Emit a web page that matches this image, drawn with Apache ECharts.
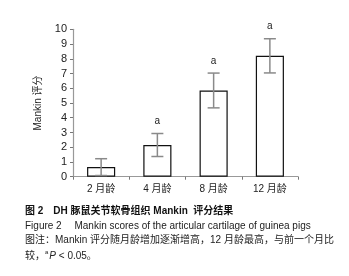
<!DOCTYPE html>
<html><head><meta charset="utf-8">
<script src="https://cdn.jsdelivr.net/npm/echarts@6/dist/echarts.min.js"></script>
<style>html,body{margin:0;padding:0;background:#fff}#c{width:349px;height:276px}</style>
</head><body><div id="c"></div>
<script>
var categories = ['2 月龄', '4 月龄', '8 月龄', '12 月龄'];
var means = [0.65, 2.15, 5.85, 8.2];
var errors = [0.57, 0.78, 1.18, 1.16];
var sigMarks = ['', 'a', 'a', 'a'];
var yTicks = [0, 1, 2, 3, 4, 5, 6, 7, 8, 9, 10];

var errData = means.map(function (m, i) { return [i, m - errors[i], m + errors[i], sigMarks[i]]; });
var font = '"Liberation Sans", Arial, "Noto Sans CJK SC", sans-serif';
var cjk = '"Liberation Sans", "Noto Sans CJK SC", sans-serif';

var chart = echarts.init(document.getElementById('c'), null, { renderer: 'canvas' });
chart.setOption({
  animation: false,
  backgroundColor: '#fff',
  grid: { left: 73, right: 51, top: 29.3, bottom: 99.3 },
  xAxis: {
    type: 'category', data: categories,
    axisLine: { lineStyle: { color: '#999', width: 1.2 } },
    axisTick: { show: true, length: 3, lineStyle: { color: '#777' } },
    axisLabel: { color: '#222', fontSize: 10, fontFamily: cjk, margin: 8 }
  },
  yAxis: {
    type: 'value', min: 0, max: 10, interval: 1,
    name: 'Mankin 评分', nameLocation: 'middle', nameGap: 30, nameRotate: 90,
    nameTextStyle: { color: '#222', fontSize: 10, fontFamily: cjk },
    axisLine: { show: true, lineStyle: { color: '#999', width: 1.2 } },
    axisTick: { show: true, length: 3, lineStyle: { color: '#777' } },
    axisLabel: { color: '#222', fontSize: 11, fontFamily: font, margin: 6,
      formatter: function (v) { return yTicks.indexOf(v) >= 0 ? String(v) : ''; } },
    splitLine: { show: false }
  },
  series: [{
    type: 'bar', data: means, barWidth: '50%',
    itemStyle: { color: '#fff', borderColor: '#111', borderWidth: 1.2 },
    z: 2
  }, {
    type: 'custom', data: errData, z: 3,
    encode: { x: 0, y: [1, 2] },
    renderItem: function (params, api) {
      var x = api.coord([api.value(0), 0])[0];
      var lo = api.coord([api.value(0), api.value(1)])[1];
      var hi = api.coord([api.value(0), api.value(2)])[1];
      var mark = sigMarks[params.dataIndex];
      var w = 6;
      var st = { stroke: '#8a8a8a', lineWidth: 1.5 };
      var children = [
        { type: 'line', shape: { x1: x, y1: lo, x2: x, y2: hi }, style: st },
        { type: 'line', shape: { x1: x - w, y1: lo, x2: x + w, y2: lo }, style: st },
        { type: 'line', shape: { x1: x - w, y1: hi, x2: x + w, y2: hi }, style: st }
      ];
      if (mark) {
        children.push({ type: 'text', style: { text: mark, x: x, y: hi - 12, align: 'center', verticalAlign: 'middle',
          fill: '#222', font: '10px ' + font } });
      }
      return { type: 'group', children: children };
    }
  }],
  graphic: [
    { type: 'text', left: 25, top: 206, style: { text: '图 2　DH 豚鼠关节软骨组织 Mankin  评分结果', fill: '#111',
      font: 'bold 10px "Liberation Sans", "Noto Sans CJK SC", sans-serif' } },
    { type: 'text', left: 25, top: 221, style: { text: 'Figure 2　 Mankin scores of the articular cartilage of guinea pigs', fill: '#222',
      font: '10px "Liberation Sans", Arial, sans-serif' } },
    { type: 'text', left: 25, top: 235, style: { text: '图注：Mankin 评分随月龄增加逐渐增高，12 月龄最高，与前一个月比', fill: '#222',
      font: '10px "Liberation Sans", "Noto Sans CJK SC", sans-serif' } },
    { type: 'text', left: 25, top: 249, style: {
      text: '{n|较，}{sup|a}{it|P}{n| < 0.05。}', fill: '#222',
      rich: {
        n: { fontSize: 10, lineHeight: 12, verticalAlign: 'bottom', fontFamily: cjk, fill: '#222' },
        sup: { fontSize: 6, lineHeight: 6, verticalAlign: 'top', fontFamily: font, fill: '#222', padding: [0, 1, 0, 0] },
        it: { fontStyle: 'italic', fontSize: 10, lineHeight: 12, verticalAlign: 'bottom', fontFamily: font, fill: '#222' }
      } } }
  ]
});
</script></body></html>
